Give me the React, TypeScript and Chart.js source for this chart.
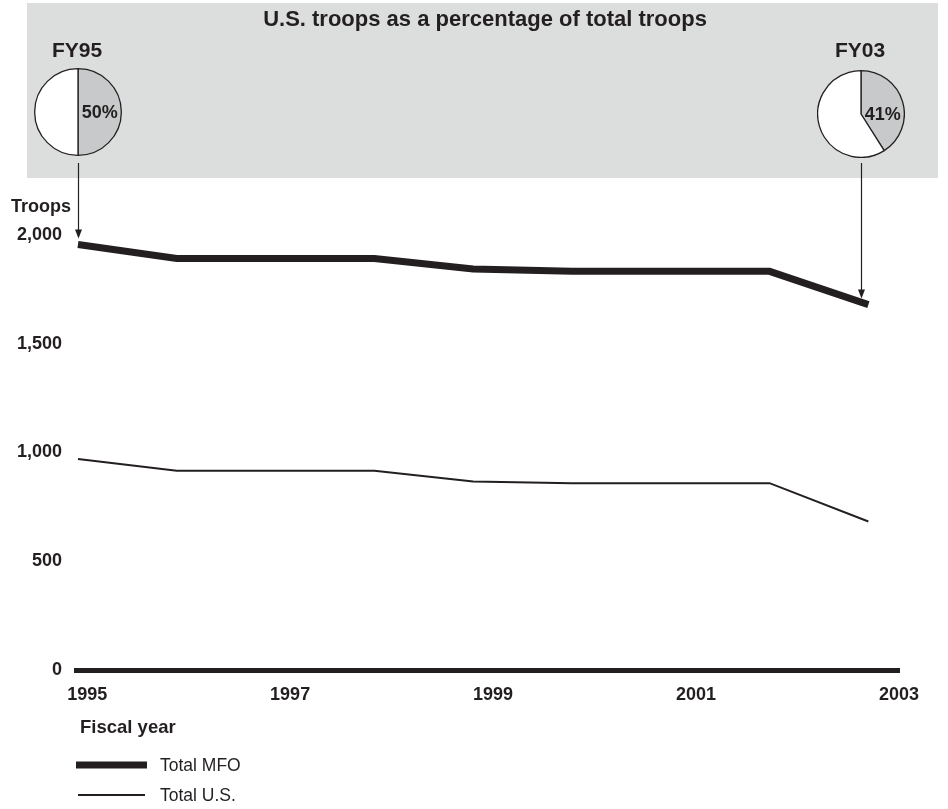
import React, { useEffect, useRef } from "react";
import { Chart, registerables } from "chart.js";

Chart.register(...registerables);

// ---- data ----
const years = [1995, 1996, 1997, 1998, 1999, 2000, 2001, 2002, 2003];
const totalMFO = [1956, 1892, 1892, 1892, 1844, 1833, 1833, 1833, 1680];
const totalUS = [970, 916, 916, 916, 867, 859, 859, 859, 683];
const yTicks = [0, 500, 1000, 1500, 2000];
const xTickLabels = [1995, 1997, 1999, 2001, 2003];
const seriesNames = ["Total MFO", "Total U.S."];
const pieLabels = ["FY95", "FY03"];
const usShareFY95 = [50, 50]; // U.S., other
const usShareFY03 = [41, 59];
const chartTitle = "U.S. troops as a percentage of total troops";
const yAxisTitle = "Troops";
const xAxisTitle = "Fiscal year";

// ---- style ----
const FONT = "'Liberation Sans', Arial, Helvetica, sans-serif";
const INK = "#231f20";
const BOX = "#dcdddd";
const PIE_GRAY = "#c8c9ca";

const PIES = [
  { label: pieLabels[0], data: usShareFY95, cx: 78, cy: 112, year: years[0], val: totalMFO[0] },
  { label: pieLabels[1], data: usShareFY03, cx: 861, cy: 114, year: years[8], val: totalMFO[8] },
];

const pctLabelPlugin = {
  id: "pctLabel",
  afterDraw(chart: any) {
    const meta = chart.getDatasetMeta(0);
    const arc = meta.data[0];
    if (!arc) return;
    const { x, y, outerRadius } = arc.getProps(["x", "y", "outerRadius"], true);
    const v = chart.data.datasets[0].data[0];
    const ctx = chart.ctx;
    ctx.save();
    ctx.fillStyle = INK;
    ctx.font = `bold 18px ${FONT}`;
    ctx.textAlign = "center";
    ctx.textBaseline = "middle";
    ctx.fillText(`${v}%`, x + outerRadius * 0.5, y + 1);
    ctx.restore();
  },
};

const decorPlugin = {
  id: "decor",
  afterDraw(chart: any) {
    const ctx = chart.ctx;
    const ys = chart.scales.y;
    ctx.save();
    ctx.fillStyle = INK;
    ctx.strokeStyle = INK;
    // title
    ctx.font = `bold 22px ${FONT}`;
    ctx.textAlign = "center";
    ctx.textBaseline = "middle";
    ctx.fillText(chartTitle, 485, 20);
    // pie labels and arrows
    PIES.forEach((p) => {
      ctx.font = `bold 21px ${FONT}`;
      ctx.textAlign = "center";
      ctx.textBaseline = "middle";
      ctx.fillText(p.label, p.cx - 1, 51);
      const tipY = ys.getPixelForValue(p.val) - 6;
      const x = p.cx + 0.5;
      ctx.lineWidth = 1.2;
      ctx.beginPath();
      ctx.moveTo(x, 163);
      ctx.lineTo(x, tipY - 6);
      ctx.stroke();
      ctx.beginPath();
      ctx.moveTo(x, tipY);
      ctx.lineTo(x - 3.5, tipY - 9);
      ctx.lineTo(x + 3.5, tipY - 9);
      ctx.closePath();
      ctx.fill();
    });
    // y axis title
    ctx.font = `bold 18px ${FONT}`;
    ctx.textAlign = "left";
    ctx.textBaseline = "middle";
    ctx.fillText(yAxisTitle, 11, 207);
    // x axis title
    ctx.font = `bold 18.5px ${FONT}`;
    ctx.fillText(xAxisTitle, 80, 728);
    // legend
    ctx.lineCap = "butt";
    ctx.lineWidth = 7;
    ctx.beginPath();
    ctx.moveTo(76, 765);
    ctx.lineTo(147, 765);
    ctx.stroke();
    ctx.lineWidth = 2;
    ctx.beginPath();
    ctx.moveTo(78, 795);
    ctx.lineTo(145, 795);
    ctx.stroke();
    ctx.font = `17.5px ${FONT}`;
    ctx.fillText(seriesNames[0], 160, 766);
    ctx.fillText(seriesNames[1], 160, 796);
    ctx.restore();
  },
};

export default function App() {
  const mainRef = useRef<HTMLCanvasElement | null>(null);
  const pie1Ref = useRef<HTMLCanvasElement | null>(null);
  const pie2Ref = useRef<HTMLCanvasElement | null>(null);

  useEffect(() => {
    document.body.style.margin = "0";
    const charts: Chart[] = [];
    const tickFont = { family: FONT, size: 18, weight: "bold" as const };

    charts.push(
      new Chart(mainRef.current!, {
        type: "line",
        data: {
          datasets: [
            {
              label: seriesNames[0],
              data: years.map((y, i) => ({ x: y, y: totalMFO[i] })),
              borderColor: INK,
              backgroundColor: INK,
              borderWidth: 7,
              pointRadius: 0,
              tension: 0,
              borderJoinStyle: "miter",
              borderCapStyle: "butt",
              xAxisID: "x",
              yAxisID: "y",
            },
            {
              label: seriesNames[1],
              data: years.map((y, i) => ({ x: y, y: totalUS[i] })),
              borderColor: INK,
              backgroundColor: INK,
              borderWidth: 2,
              pointRadius: 0,
              tension: 0,
              borderJoinStyle: "miter",
              borderCapStyle: "butt",
              xAxisID: "x",
              yAxisID: "y",
            },
          ],
        },
        options: {
          animation: false,
          responsive: false,
          layout: { padding: { left: 0, top: 235, right: 49, bottom: 99 } },
          plugins: {
            legend: { display: false },
            tooltip: { enabled: false },
            title: { display: false },
          },
          scales: {
            x: { type: "linear", display: false, min: 1994.98, max: 2003.31 },
            xl: {
              type: "linear",
              position: "bottom",
              min: 1994.89,
              max: 2003,
              grid: { display: false },
              border: { display: true, width: 5, color: INK },
              ticks: {
                font: tickFont,
                color: INK,
                padding: 6,
                maxRotation: 0,
                autoSkip: false,
                callback: (v: any) => String(v),
              },
              afterBuildTicks: (s: any) => {
                s.ticks = xTickLabels.map((v) => ({ value: v }));
              },
              afterFit: (s: any) => {
                s.height = 40;
              },
            },
            y: {
              type: "linear",
              min: 0,
              max: 2000,
              grid: { display: false },
              border: { display: false },
              ticks: {
                font: tickFont,
                color: INK,
                padding: 6,
                callback: (v: any) => Number(v).toLocaleString("en-US"),
              },
              afterBuildTicks: (s: any) => {
                s.ticks = yTicks.map((v) => ({ value: v }));
              },
              afterFit: (s: any) => {
                s.width = 76;
              },
            },
          },
        } as any,
        plugins: [decorPlugin],
      })
    );

    [pie1Ref, pie2Ref].forEach((ref, i) => {
      charts.push(
        new Chart(ref.current!, {
          type: "pie",
          data: {
            labels: ["U.S.", "Other"],
            datasets: [
              {
                data: PIES[i].data,
                backgroundColor: [PIE_GRAY, "#ffffff"],
                borderColor: INK,
                borderWidth: 1.3,
              },
            ],
          },
          options: {
            animation: false,
            responsive: false,
            layout: { padding: 0 },
            plugins: { legend: { display: false }, tooltip: { enabled: false } },
          } as any,
          plugins: [pctLabelPlugin],
        })
      );
    });

    return () => charts.forEach((c) => c.destroy());
  }, []);

  return (
    <div style={{ position: "absolute", left: 0, top: 0, width: 948, height: 809, background: "#fff" }}>
      <div style={{ position: "absolute", left: 27, top: 3, width: 911, height: 175, background: BOX }} />
      <canvas ref={mainRef} width={948} height={809} style={{ position: "absolute", left: 0, top: 0 }} />
      <canvas
        ref={pie1Ref}
        width={88}
        height={88}
        style={{ position: "absolute", left: PIES[0].cx - 44, top: PIES[0].cy - 44 }}
      />
      <canvas
        ref={pie2Ref}
        width={88}
        height={88}
        style={{ position: "absolute", left: PIES[1].cx - 44, top: PIES[1].cy - 44 }}
      />
    </div>
  );
}
